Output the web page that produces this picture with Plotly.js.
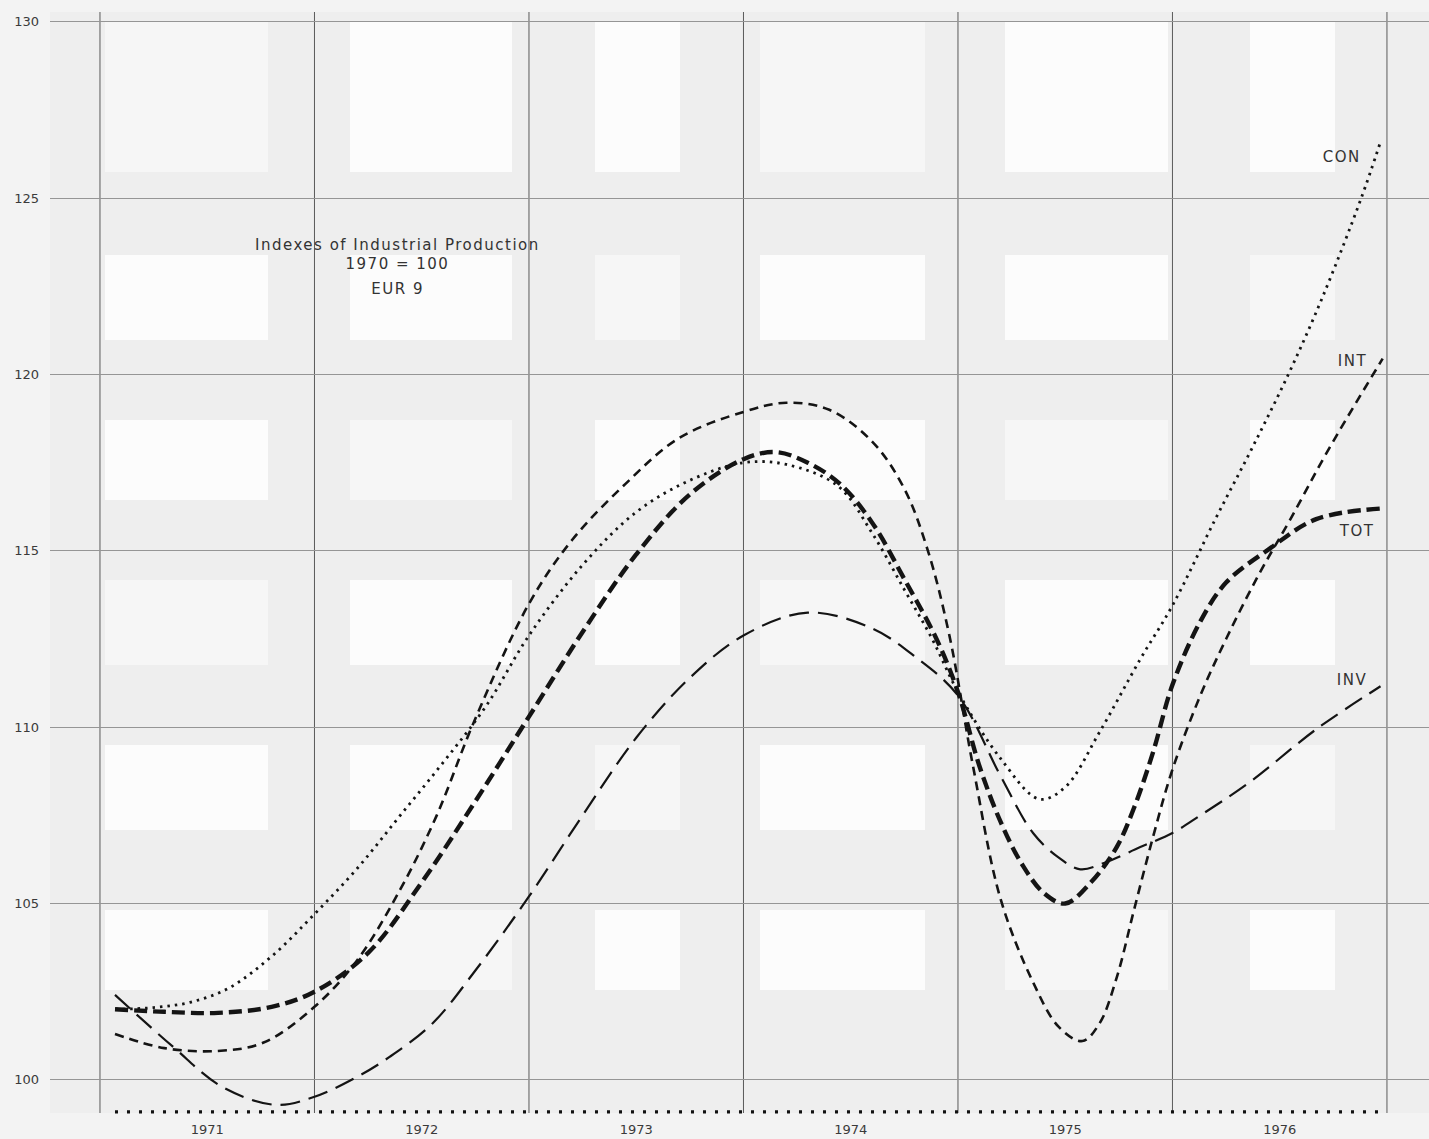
<!DOCTYPE html>
<html>
<head>
<meta charset="utf-8">
<script src="https://cdn.plot.ly/plotly-3.0.1.min.js"></script>
<style>
  html, body { margin: 0; padding: 0; background: #f3f3f3; }
  #chart { width: 1429px; height: 1139px; }
</style>
</head>
<body>
<div id="chart"></div>
<script>
// ---- Data (decimal year, index 1970 = 100) ----
const yearLabels = ['1971', '1972', '1973', '1974', '1975', '1976'];
const yearMids = [1971.5, 1972.5, 1973.5, 1974.5, 1975.5, 1976.5];
const yearBounds = [1971, 1972, 1973, 1974, 1975, 1976, 1977];
const yTicks = [100, 105, 110, 115, 120, 125, 130];

const totX = [1971.07, 1971.3, 1971.55, 1971.8, 1972.0, 1972.25, 1972.5, 1972.75, 1973.0, 1973.25, 1973.5, 1973.75, 1974.0, 1974.15, 1974.3, 1974.45, 1974.6, 1974.75, 1974.9, 1975.0, 1975.1, 1975.2, 1975.3, 1975.4, 1975.5, 1975.62, 1975.74, 1975.82, 1975.91, 1976.0, 1976.13, 1976.25, 1976.45, 1976.67, 1976.97];
const totY = [102.0, 101.93, 101.9, 102.07, 102.5, 103.6, 105.6, 107.9, 110.3, 112.7, 114.9, 116.6, 117.6, 117.8, 117.5, 116.9, 115.8, 114.2, 112.5, 111.0, 108.9, 107.3, 106.1, 105.3, 105.0, 105.6, 106.6, 107.7, 109.3, 111.2, 113.0, 114.1, 115.05, 115.9, 116.2];

const intX = [1971.07, 1971.3, 1971.55, 1971.76, 1972.0, 1972.2, 1972.4, 1972.57, 1972.74, 1973.0, 1973.2, 1973.45, 1973.7, 1974.0, 1974.2, 1974.4, 1974.6, 1974.75, 1974.86, 1974.96, 1975.07, 1975.2, 1975.35, 1975.47, 1975.58, 1975.66, 1975.74, 1975.82, 1975.91, 1976.0, 1976.13, 1976.25, 1976.4, 1976.55, 1976.73, 1976.98];
const intY = [101.3, 100.9, 100.82, 101.05, 102.07, 103.4, 105.4, 107.5, 110.1, 113.5, 115.3, 116.9, 118.2, 118.94, 119.2, 119.0, 118.1, 116.76, 115.0, 112.6, 108.9, 105.1, 102.77, 101.5, 101.1, 101.6, 102.9, 104.8, 106.9, 108.8, 110.9, 112.5, 114.3, 115.9, 117.9, 120.45];

const conX = [1971.07, 1971.25, 1971.42, 1971.6, 1971.8, 1972.0, 1972.2, 1972.4, 1972.6, 1972.8, 1973.0, 1973.25, 1973.5, 1973.75, 1974.0, 1974.2, 1974.44, 1974.6, 1974.75, 1974.88, 1975.0, 1975.2, 1975.38, 1975.5, 1975.66, 1975.85, 1976.0, 1976.2, 1976.37, 1976.54, 1976.7, 1976.88, 1976.97];
const conY = [102.0, 102.05, 102.2, 102.6, 103.5, 104.7, 106.0, 107.5, 109.0, 110.6, 112.6, 114.6, 116.1, 117.0, 117.5, 117.45, 116.84, 115.5, 113.9, 112.5, 111.0, 109.1, 107.96, 108.3, 109.86, 111.93, 113.45, 115.9, 117.9, 120.0, 122.2, 125.0, 126.6];

const invX = [1971.07, 1971.34, 1971.57, 1971.82, 1972.0, 1972.2, 1972.35, 1972.55, 1972.75, 1973.0, 1973.25, 1973.5, 1973.75, 1974.0, 1974.3, 1974.6, 1974.8, 1975.0, 1975.2, 1975.35, 1975.47, 1975.57, 1975.69, 1975.85, 1976.0, 1976.13, 1976.36, 1976.67, 1976.97];
const invY = [102.41, 100.94, 99.8, 99.29, 99.52, 100.09, 100.65, 101.6, 103.1, 105.2, 107.5, 109.7, 111.4, 112.6, 113.25, 112.8, 112.0, 110.9, 108.6, 107.0, 106.3, 105.97, 106.17, 106.6, 107.0, 107.5, 108.44, 109.94, 111.16];

const seriesNames = ['TOT', 'INT', 'CON', 'INV'];
const titleLines = ['Indexes of Industrial Production', '1970 = 100', 'EUR 9'];

// ---- Layout helpers (pixel -> paper) ----
const W = 1429, H = 1139, ML = 50, MR = 0, MT = 12, MB = 26;
const PW = W - ML - MR, PH = H - MT - MB;
const px = v => (v - ML) / PW;
const py = v => (H - MB - v) / PH;

const lineCol = '#141414';
const traces = [
  { x: totX, y: totY, name: seriesNames[0], line: { color: lineCol, width: 4.4, dash: '13px,6px', shape: 'spline', smoothing: 1 } },
  { x: intX, y: intY, name: seriesNames[1], line: { color: lineCol, width: 2.6, dash: '9px,6px', shape: 'spline', smoothing: 1 } },
  { x: conX, y: conY, name: seriesNames[2], line: { color: lineCol, width: 2.8, dash: '2.5px,5px', shape: 'spline', smoothing: 1 } },
  { x: invX, y: invY, name: seriesNames[3], line: { color: lineCol, width: 2.2, dash: '20px,9px', shape: 'spline', smoothing: 1 } }
].map(t => Object.assign({ type: 'scatter', mode: 'lines', hoverinfo: 'skip', showlegend: false }, t));

// background scan-like blocks
const shapes = [];
const cols = [[105, 268], [350, 512], [595, 680], [760, 925], [1005, 1168], [1250, 1335]];
const rows = [[22, 172], [255, 340], [420, 500], [580, 665], [745, 830], [910, 990]];
rows.forEach((r, ri) => cols.forEach((c, ci) => {
  const shade = ((ri + ci) % 3 === 0) ? '#f6f6f6' : '#fcfcfc';
  shapes.push({ type: 'rect', xref: 'paper', yref: 'paper', x0: px(c[0]), x1: px(c[1]), y0: py(r[1]), y1: py(r[0]),
    fillcolor: shade, line: { width: 0 }, layer: 'below' });
}));
// vertical year-boundary grid lines
yearBounds.forEach(b => shapes.push({ type: 'line', xref: 'x', yref: 'paper', x0: b, x1: b, y0: 0, y1: 1,
  line: { color: '#5a5a5a', width: 1 }, layer: 'below' }));
// dotted baseline
shapes.push({ type: 'line', xref: 'x', yref: 'paper', x0: totX[0], x1: totX[totX.length - 1], y0: 0.001, y1: 0.001,
  line: { color: '#111', width: 3.2, dash: '3px,9px' } });

const annFont = { family: 'DejaVu Sans, Verdana, sans-serif', size: 15, color: '#333' };
const annotations = [
  { x: 1972.385, y: 123.68, text: titleLines[0] },
  { x: 1972.385, y: 123.14, text: titleLines[1] },
  { x: 1972.385, y: 122.43, text: titleLines[2] },
  { x: 1976.79, y: 126.17, text: seriesNames[2] },
  { x: 1976.84, y: 120.39, text: seriesNames[1] },
  { x: 1976.86, y: 115.57, text: seriesNames[0] },
  { x: 1976.84, y: 111.34, text: seriesNames[3] }
].map(a => Object.assign({ xref: 'x', yref: 'y', showarrow: false, font: annFont, xanchor: 'center', yanchor: 'middle' }, a));

const tickFont = { family: 'DejaVu Sans, Verdana, sans-serif', size: 13, color: '#3a3a3a' };
const layout = {
  width: W, height: H,
  margin: { l: ML, r: MR, t: MT, b: MB, pad: 0 },
  paper_bgcolor: '#f3f3f3',
  plot_bgcolor: '#eeeeee',
  showlegend: false,
  xaxis: {
    range: [1970.767, 1977.196],
    tickmode: 'array', tickvals: yearMids, ticktext: yearLabels,
    showgrid: false, zeroline: false, showline: false, ticks: '',
    ticklabelstandoff: 7,
    tickfont: tickFont
  },
  yaxis: {
    range: [99.06, 130.28],
    tickmode: 'array', tickvals: yTicks, ticktext: yTicks.map(String),
    showgrid: true, gridcolor: '#959595', gridwidth: 1,
    zeroline: false, showline: false, ticks: '',
    ticklabelstandoff: 10,
    tickfont: tickFont
  },
  shapes: shapes,
  annotations: annotations
};

Plotly.newPlot('chart', traces, layout, { displayModeBar: false, staticPlot: true }).then(() => {
  document.querySelectorAll('#chart .annotation-text').forEach(el => {
    el.style.letterSpacing = '1.5px';
  });
});
</script>
</body>
</html>
